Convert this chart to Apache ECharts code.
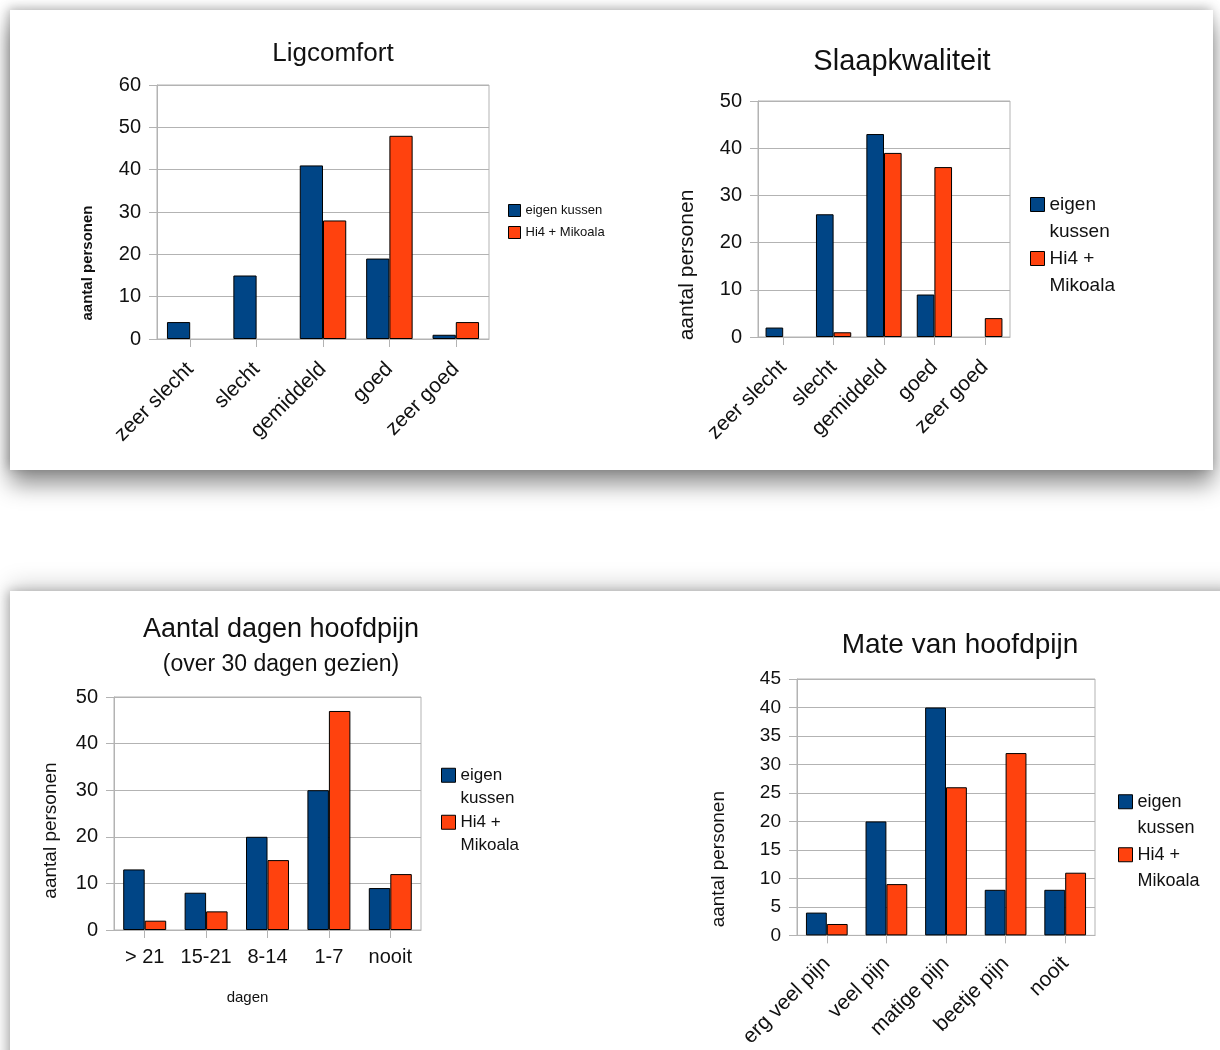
<!DOCTYPE html>
<html>
<head>
<meta charset="utf-8">
<script src="https://cdn.jsdelivr.net/npm/echarts@6/dist/echarts.min.js"></script>
<style>
  html, body { margin: 0; padding: 0; background: #ffffff; width: 1220px; height: 1050px; overflow: hidden; }
  .card { position: absolute; background: #fff; }
  #card1 { left: 10px; top: 10px; width: 1203px; height: 460px;
           box-shadow: 0 14px 22px rgba(0,0,0,0.45), -2px -2px 10px rgba(0,0,0,0.25); }
  #card2 { left: 10px; top: 591px; width: 1230px; height: 500px;
           box-shadow: 0 -6px 22px rgba(0,0,0,0.18), -2px 0 10px rgba(0,0,0,0.25); }
  #chart { position: absolute; left: 0; top: 0; width: 1220px; height: 1050px; }
</style>
</head>
<body>
<div class="card" id="card1"></div>
<div class="card" id="card2"></div>
<div id="chart"></div>
<script>
// ---- data ----
var seriesNames = ['eigen kussen', 'Hi4 + Mikoala'];

var ligCategories = ['zeer slecht', 'slecht', 'gemiddeld', 'goed', 'zeer goed'];
var ligEigen = [4, 15, 41, 19, 1];
var ligHi4 = [0, 0, 28, 48, 4];

var slaapCategories = ['zeer slecht', 'slecht', 'gemiddeld', 'goed', 'zeer goed'];
var slaapEigen = [2, 26, 43, 9, 0];
var slaapHi4 = [0, 1, 39, 36, 4];

var dagenCategories = ['> 21', '15-21', '8-14', '1-7', 'nooit'];
var dagenEigen = [13, 8, 20, 30, 9];
var dagenHi4 = [2, 4, 15, 47, 12];

var mateCategories = ['erg veel pijn', 'veel pijn', 'matige pijn', 'beetje pijn', 'nooit'];
var mateEigen = [4, 20, 40, 8, 8];
var mateHi4 = [2, 9, 26, 32, 11];

var titles = ['Ligcomfort', 'Slaapkwaliteit', 'Aantal dagen hoofdpijn', 'Mate van hoofdpijn'];
var subtitle3 = '(over 30 dagen gezien)';
var yName = 'aantal personen';
var xName3 = 'dagen';

// ---- styling ----
var FONT = '"Liberation Sans", Arial, sans-serif';
var BLUE = '#004586', ORANGE = '#ff420e';
var GRID = '#b3b3b3';
var TXT = '#111111';

var chart = echarts.init(document.getElementById('chart'));

var grids = [
  { left: 157, top: 85, width: 332, height: 254 },
  { left: 758, top: 101, width: 252, height: 236 },
  { left: 114, top: 697, width: 307, height: 233 },
  { left: 797, top: 679, width: 298, height: 258 }
];
grids.forEach(function (g) { g.show = true; g.borderColor = GRID; g.borderWidth = 1; g.backgroundColor = 'transparent'; });

function xAxis(idx, cats, rot, fs, margin) {
  return {
    type: 'category', gridIndex: idx, data: cats,
    axisLine: { lineStyle: { color: GRID } },
    axisTick: { show: true, alignWithLabel: true, length: 8, lineStyle: { color: GRID } },
    axisLabel: { rotate: rot, fontSize: fs, fontFamily: FONT, color: TXT, margin: margin, interval: 0 },
    splitLine: { show: false }
  };
}
function yAxis(idx, max, interval, fs, nameFs, nameGap, shift, bold) {
  return {
    type: 'value', gridIndex: idx, min: 0, max: max, interval: interval,
    axisLine: { show: true, lineStyle: { color: GRID } },
    axisTick: { show: true, length: 8, lineStyle: { color: GRID } },
    axisLabel: { fontSize: fs, fontFamily: FONT, color: TXT, margin: 16 },
    splitLine: { show: true, lineStyle: { color: GRID, width: 1 } },
    name: yName, nameLocation: 'middle', nameGap: nameGap,
    nameTextStyle: { fontSize: nameFs, fontFamily: FONT, color: TXT, fontWeight: bold ? 'bold' : 'normal', padding: [0, shift * 2, 0, 0] }
  };
}

var x3 = xAxis(2, dagenCategories, 0, 20, 17);
x3.name = xName3; x3.nameLocation = 'middle'; x3.nameGap = 60;
x3.nameTextStyle = { fontSize: 15, fontFamily: FONT, color: TXT, padding: [0, 40, 0, 0] };

function bar(name, idx, data, color) {
  return {
    type: 'bar', name: name, xAxisIndex: idx, yAxisIndex: idx,
    data: data.map(function (v) { return v === 0 ? '-' : v; }),
    barGap: '0%', barCategoryGap: '30%',
    itemStyle: { color: color, borderColor: '#000', borderWidth: 1 },
    emphasis: { disabled: true }, animation: false
  };
}

// wrap at last space; a leading blank line keeps the icon level with the first line
function wrapName(n) { var i = n.lastIndexOf(' '); return '\n' + n.slice(0, i) + '\n' + n.slice(i + 1); }

// single-line legend
function legend1(left, top, fs, gap, iconSize) {
  return {
    orient: 'vertical', left: left, top: top, data: seriesNames,
    itemWidth: iconSize, itemHeight: iconSize, itemGap: gap, icon: 'rect',
    itemStyle: { borderColor: '#000', borderWidth: 1 },
    textStyle: { fontSize: fs, fontFamily: FONT, color: TXT, lineHeight: fs },
    selectedMode: false
  };
}
// two-line legend
function legend2(left, top, fs, lh, iconSize) {
  return {
    orient: 'vertical', left: left, top: top, data: seriesNames,
    itemWidth: iconSize, itemHeight: iconSize, itemGap: -lh, icon: 'rect',
    itemStyle: { borderColor: '#000', borderWidth: 1 },
    textStyle: { fontSize: fs, fontFamily: FONT, color: TXT, lineHeight: lh },
    formatter: wrapName,
    selectedMode: false
  };
}

var option = {
  backgroundColor: 'transparent',
  animation: false,
  title: [
    { text: titles[0], left: 328, top: 36, textAlign: 'center', textStyle: { fontSize: 26, fontWeight: 'normal', fontFamily: FONT, color: TXT } },
    { text: titles[1], left: 897, top: 42, textAlign: 'center', textStyle: { fontSize: 29, fontWeight: 'normal', fontFamily: FONT, color: TXT } },
    { text: titles[2], subtext: subtitle3, left: 276, top: 611, textAlign: 'center', itemGap: 10,
      textStyle: { fontSize: 27, fontWeight: 'normal', fontFamily: FONT, color: TXT },
      subtextStyle: { fontSize: 23, fontFamily: FONT, color: TXT } },
    { text: titles[3], left: 955, top: 626, textAlign: 'center', textStyle: { fontSize: 28, fontWeight: 'normal', fontFamily: FONT, color: TXT } }
  ],
  grid: grids,
  xAxis: [
    xAxis(0, ligCategories, 45, 21, 27),
    xAxis(1, slaapCategories, 45, 21, 27),
    x3,
    xAxis(3, mateCategories, 45, 21, 25)
  ],
  yAxis: [
    yAxis(0, 60, 10, 20, 15, 62, 51, true),
    yAxis(1, 50, 10, 20, 21, 60, 46, false),
    yAxis(2, 50, 10, 20, 19, 54, 17, false),
    yAxis(3, 45, 5, 19, 19, 69, 52, false)
  ],
  legend: [
    legend1(503, 199, 13, 9, 12),
    legend2(1025, 159, 19, 27, 14),
    legend2(436, 735, 17, 23.5, 14),
    legend2(1113, 757, 18, 26.5, 14)
  ],
  series: [
    bar(seriesNames[0], 0, ligEigen, BLUE), bar(seriesNames[1], 0, ligHi4, ORANGE),
    bar(seriesNames[0], 1, slaapEigen, BLUE), bar(seriesNames[1], 1, slaapHi4, ORANGE),
    bar(seriesNames[0], 2, dagenEigen, BLUE), bar(seriesNames[1], 2, dagenHi4, ORANGE),
    bar(seriesNames[0], 3, mateEigen, BLUE), bar(seriesNames[1], 3, mateHi4, ORANGE)
  ]
};
chart.setOption(option);
</script>
</body>
</html>
